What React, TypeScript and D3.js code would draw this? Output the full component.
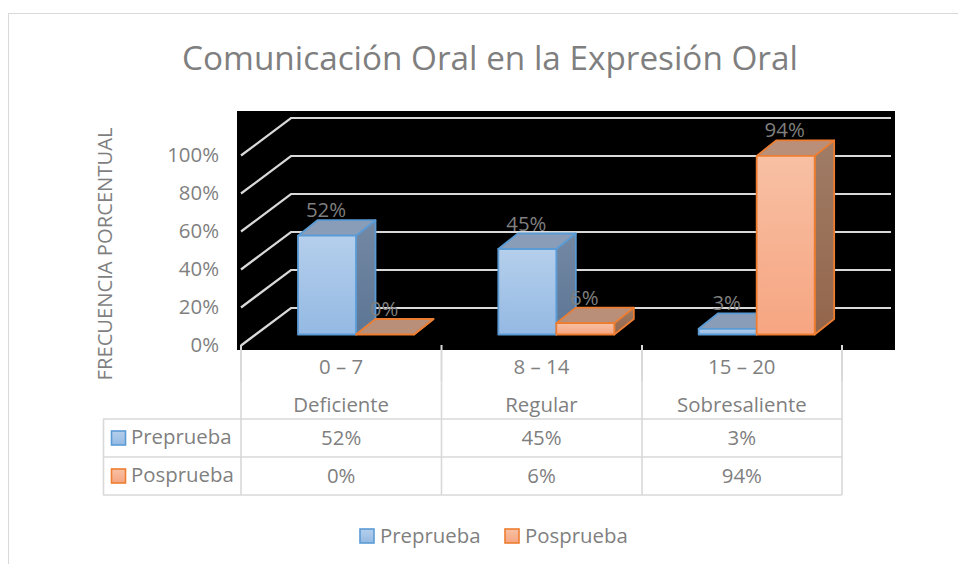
import React from "react";
import * as d3 from "d3";

const title = "Comunicación Oral en la Expresión Oral";
const yTitle = "FRECUENCIA PORCENTUAL";
const ranges = ["0 – 7", "8 – 14", "15 – 20"];
const categories = ["Deficiente", "Regular", "Sobresaliente"];
const seriesNames = ["Preprueba", "Posprueba"];
const preprueba = [52, 45, 3];
const posprueba = [0, 6, 94];
const yTicks = [0, 20, 40, 60, 80, 100];

const FONT = "'Open Sans', 'Noto Sans', sans-serif";
const TXT = "#7f7f7f";
const LINE = "#d9d9d9";
const FS = 20.4;
const DX = 19.5;
const DY = 15.5;
const GDX = 50;
const GDY = 37.5;

const x = d3.scaleBand<number>().domain([0, 1, 2]).range([241, 842]);
const y = d3.scaleLinear().domain([0, 100]).range([345.5, 155.5]);
const barY = d3.scaleLinear().domain([0, 100]).range([334.5, 144.5]);
const barW = 58;

const palettes = [
  { stroke: "#5b9bd5", front: "url(#gBlue)", side: "url(#gBlueSide)", top: "#8a9db8" },
  { stroke: "#ed7d31", front: "url(#gOrange)", side: "url(#gOrangeSide)", top: "#b98f79" },
];

function Bar({ group, s, value }: { group: number; s: number; value: number }) {
  const p = palettes[s];
  const x0 = x(group)! + 57 + s * barW;
  const x1 = x0 + barW;
  const y0 = barY(0);
  const y1 = barY(value);
  const poly = (pts: number[][]) => pts.map((q) => q.join(",")).join(" ");
  const common = { stroke: p.stroke, strokeWidth: 1.8, strokeLinejoin: "round" as const };
  return (
    <g>
      <polygon {...common} fill={p.side} points={poly([[x1, y0], [x1 + DX, y0 - DY], [x1 + DX, y1 - DY], [x1, y1]])} />
      <polygon {...common} fill={p.top} points={poly([[x0, y1], [x0 + DX, y1 - DY], [x1 + DX, y1 - DY], [x1, y1]])} />
      {value > 0 && <rect {...common} fill={p.front} x={x0} y={y1} width={barW} height={y0 - y1} />}
    </g>
  );
}

function Swatch({ xx, yy, s }: { xx: number; yy: number; s: number }) {
  return <rect x={xx} y={yy} width={14} height={14} fill={s === 0 ? "url(#gBlue)" : "url(#gOrange)"} stroke={palettes[s].stroke} strokeWidth={1.6} />;
}

export default function App() {
  const series = [preprueba, posprueba];
  const vx = [241, 441.5, 642, 842];
  return (
    <svg width={958} height={564} style={{ position: "absolute", left: 0, top: 0, background: "#fff" }} fontFamily={FONT}>
      <defs>
        <linearGradient id="gBlue" x1="0" y1="0" x2="0" y2="1"><stop offset="0" stopColor="#b5cfec" /><stop offset="1" stopColor="#94b9e3" /></linearGradient>
        <linearGradient id="gBlueSide" x1="0" y1="0" x2="0" y2="1"><stop offset="0" stopColor="#7488a3" /><stop offset="1" stopColor="#5c7695" /></linearGradient>
        <linearGradient id="gOrange" x1="0" y1="0" x2="0" y2="1"><stop offset="0" stopColor="#f8c0a4" /><stop offset="1" stopColor="#f6a581" /></linearGradient>
        <linearGradient id="gOrangeSide" x1="0" y1="0" x2="0" y2="1"><stop offset="0" stopColor="#a07c66" /><stop offset="1" stopColor="#93654b" /></linearGradient>
      </defs>

      <line x1={8} x2={958} y1={13.5} y2={13.5} stroke={LINE} />
      <line x1={8.5} x2={8.5} y1={13} y2={564} stroke={LINE} />

      <text x={490} y={70} textAnchor="middle" fontSize={33.3} fill={TXT}>{title}</text>

      <rect x={237} y={111} width={658} height={239} fill="#000" />

      {yTicks.map((t) => (
        <polyline key={t} fill="none" stroke={LINE} strokeWidth={2.2}
          points={`${241},${y(t)} ${241 + GDX},${y(t) - GDY} ${891},${y(t) - GDY}`} />
      ))}

      {categories.map((_, g) => series.map((vals, s) => <Bar key={`${g}-${s}`} group={g} s={s} value={vals[g]} />))}

      {categories.map((_, g) =>
        series.map((vals, s) => (
          <text key={`${g}-${s}`} x={x(g)! + 57 + s * barW + barW / 2 - 1} y={barY(vals[g]) - DY - 3}
            textAnchor="middle" fontSize={FS} fill={TXT}>{vals[g]}%</text>
        ))
      )}

      {yTicks.map((t) => (
        <text key={t} x={219} y={y(t) + 6} textAnchor="end" fontSize={FS} fill={TXT}>{t}%</text>
      ))}

      <text transform="translate(112,254) rotate(-90)" textAnchor="middle" fontSize={20.2} fill={TXT}>{yTitle}</text>

      {vx.map((v) => <line key={v} x1={v} x2={v} y1={345} y2={381} stroke={LINE} strokeWidth={2} />)}
      {vx.map((v) => <line key={v} x1={v} x2={v} y1={381} y2={495} stroke={LINE} strokeWidth={1.6} />)}
      <line x1={103.5} x2={103.5} y1={419} y2={495} stroke={LINE} strokeWidth={1.6} />
      {[419, 457, 495].map((h) => <line key={h} x1={103} x2={842} y1={h} y2={h} stroke={LINE} strokeWidth={1.6} />)}

      {categories.map((c, g) => {
        const cx = x(g)! + x.bandwidth() / 2;
        return (
          <g key={c} textAnchor="middle" fontSize={FS} fill={TXT}>
            <text x={cx} y={374}>{ranges[g]}</text>
            <text x={cx} y={412}>{c}</text>
            <text x={cx} y={445}>{preprueba[g]}%</text>
            <text x={cx} y={483}>{posprueba[g]}%</text>
          </g>
        );
      })}

      {seriesNames.map((n, s) => (
        <g key={n}>
          <Swatch xx={111.5} yy={431 + s * 38} s={s} />
          <text x={131} y={444 + s * 38} fontSize={FS} fill={TXT}>{n}</text>
        </g>
      ))}

      {seriesNames.map((n, s) => {
        const lx = [360, 505][s];
        return (
          <g key={n}>
            <Swatch xx={lx} yy={529} s={s} />
            <text x={lx + 20} y={543} fontSize={FS} fill={TXT}>{n}</text>
          </g>
        );
      })}
    </svg>
  );
}
